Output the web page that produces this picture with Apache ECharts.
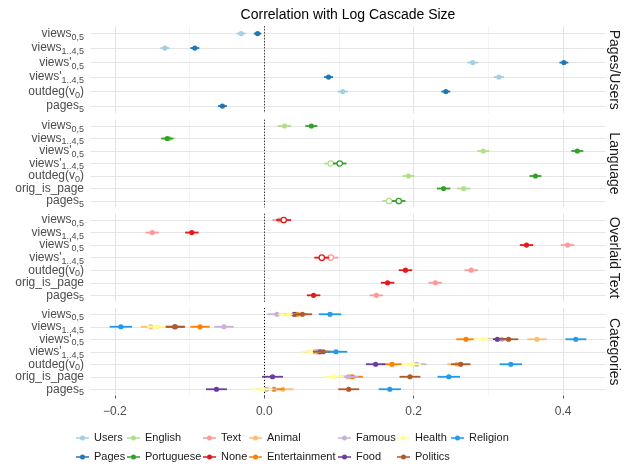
<!DOCTYPE html>
<html><head><meta charset="utf-8">
<script src="https://cdn.jsdelivr.net/npm/echarts@6/dist/echarts.min.js"></script>
<style>html,body{margin:0;padding:0;background:#fff}#c{width:630px;height:466px}</style>
</head><body><div id="c"></div>
<script>
const FONT = '"Liberation Sans", Arial, Helvetica, sans-serif';
const titleText = 'Correlation with Log Cascade Size';
const panelNames = ['Pages/Users', 'Language', 'Overlaid Text', 'Categories'];
const rowsPU = ['views05', 'views145', 'viewsp05', 'viewsp145', 'outdeg', 'pages5'];
const rowsAll = ['views05', 'views145', 'viewsp05', 'viewsp145', 'outdeg', 'orig', 'pages5'];
const rowLabels = {
  views05: '{m|views}{s|0,5}',
  views145: '{m|views}{s|1..4,5}',
  viewsp05: "{m|views'}{s|0,5}",
  viewsp145: "{m|views'}{s|1..4,5}",
  outdeg: '{m|outdeg(v}{s|0}{m|)}',
  orig: '{m|orig_is_page}',
  pages5: '{m|pages}{s|5}'
};
const xTicks = [-0.2, 0, 0.2, 0.4];
const xMinor = [-0.1, 0.1, 0.3];

// Pages/Users panel (rows: rowsPU)
const users      = [-0.031, -0.133, 0.279, 0.314, 0.105, null];
const usersErr   = [0.006, 0.006, 0.007, 0.007, 0.007, null];
const pages      = [-0.009, -0.093, 0.401, 0.086, 0.243, -0.056];
const pagesErr   = [0.005, 0.006, 0.006, 0.006, 0.006, 0.006];
// Language panel (rows: rowsAll)
const english    = [0.027, -0.127, 0.293, 0.089, 0.193, 0.267, 0.167];
const englishErr = [0.009, 0.008, 0.008, 0.009, 0.008, 0.009, 0.009];
const portuguese = [0.063, -0.130, 0.419, 0.101, 0.363, 0.240, 0.180];
const portugueseErr = [0.008, 0.008, 0.008, 0.009, 0.008, 0.009, 0.009];
// Overlaid Text panel
const textOv     = [0.020, -0.150, 0.406, 0.089, 0.277, 0.229, 0.150];
const textOvErr  = [0.009, 0.009, 0.009, 0.010, 0.009, 0.009, 0.009];
const noneOv     = [0.026, -0.097, 0.351, 0.077, 0.189, 0.165, 0.066];
const noneOvErr  = [0.010, 0.009, 0.009, 0.010, 0.009, 0.009, 0.009];
// Categories panel
const animal     = [0.045, -0.152, 0.365, 0.070, 0.258, 0.115, 0.025];
const entertainment = [0.043, -0.086, 0.270, 0.072, 0.171, 0.118, 0.013];
const famous     = [0.017, -0.054, 0.318, 0.068, 0.204, 0.112, 0.003];
const food       = [0.040, -0.120, 0.312, 0.075, 0.149, 0.011, -0.064];
const health     = [0.032, -0.144, 0.293, 0.062, 0.197, 0.093, -0.003];
const politics   = [0.051, -0.119, 0.327, 0.079, 0.263, 0.195, 0.113];
const religion   = [0.088, -0.192, 0.417, 0.096, 0.330, 0.247, 0.168];
const catErr     = [0.013, 0.013, 0.013, 0.014, 0.013, 0.014, 0.014];
const religionErr = [0.015, 0.015, 0.014, 0.015, 0.015, 0.015, 0.015];

// hollow (open) markers by row index
const hollowMarks = {
  English: [3, 6], Portuguese: [3, 6], Text: [3], None: [0, 3]
};

const seriesSpec = [
  ['Users', 0, '#A6CEE3', users, usersErr],
  ['Pages', 0, '#1F78B4', pages, pagesErr],
  ['English', 1, '#B2DF8A', english, englishErr],
  ['Portuguese', 1, '#33A02C', portuguese, portugueseErr],
  ['Text', 2, '#FB9A99', textOv, textOvErr],
  ['None', 2, '#E31A1C', noneOv, noneOvErr],
  ['Animal', 3, '#FDBF6F', animal, catErr],
  ['Entertainment', 3, '#FF7F00', entertainment, catErr],
  ['Famous', 3, '#CAB2D6', famous, catErr],
  ['Food', 3, '#6A3D9A', food, catErr],
  ['Health', 3, '#FFFF99', health, catErr],
  ['Politics', 3, '#B15928', politics, catErr],
  ['Religion', 3, '#1E9BF0', religion, religionErr]
];

const legendCols = [
  ['Users', 'Pages'], ['English', 'Portuguese'], ['Text', 'None'],
  ['Animal', 'Entertainment'], ['Famous', 'Food'], ['Health', 'Politics'], ['Religion']
];
const legendLeft = [76, 127, 203, 249, 338, 397, 451];

const grids = [
  { top: 26.3, height: 87.0 },
  { top: 119.75, height: 87.5 },
  { top: 213.7, height: 87.9 },
  { top: 308.0, height: 87.5 }
];

const X_MIN = -0.2333, X_MAX = 0.4574;
const MAJOR = '#E2E2E2', MINOR = '#F3F3F3', HLINE = '#E6E6E6';

const option = {
  animation: false,
  backgroundColor: '#fff',
  textStyle: { fontFamily: FONT },
  grid: grids.map(g => ({ left: 90, right: 24, top: g.top, height: g.height })),
  xAxis: grids.map((g, i) => ({
    type: 'value', gridIndex: i, min: X_MIN, max: X_MAX,
    axisLine: { show: false },
    splitLine: { show: false },
    axisTick: { show: i === 3, length: 3, customValues: xTicks, lineStyle: { color: '#555' } },
    axisLabel: {
      show: i === 3, customValues: xTicks, margin: 10, fontSize: 12, color: '#4D4D4D', fontFamily: FONT,
      formatter: v => (v < 0 ? '\u2212' : '') + Math.abs(v).toFixed(1)
    }
  })),
  yAxis: grids.map((g, i) => ({
    type: 'category', gridIndex: i, inverse: true,
    data: i === 0 ? rowsPU : rowsAll,
    axisLine: { show: false },
    splitLine: { show: false },
    axisTick: { show: true, interval: 0, alignWithLabel: true, length: 3, lineStyle: { color: '#555' } },
    axisLabel: {
      interval: 0, margin: 6, formatter: v => rowLabels[v],
      rich: {
        m: { fontSize: 12, color: '#4D4D4D', fontFamily: FONT, lineHeight: 16 },
        s: { fontSize: 9, color: '#4D4D4D', fontFamily: FONT, lineHeight: 9, verticalAlign: 'bottom' }
      }
    }
  })),
  legend: legendCols.map((col, i) => ({
    orient: 'vertical', left: legendLeft[i], top: 432.5, padding: 0,
    itemWidth: 13, itemHeight: 14, itemGap: 8,
    icon: 'path://M0,4.3H14V5.7H0Z M7,2.3A2.7,2.7,0,1,1,7,7.7A2.7,2.7,0,1,1,7,2.3Z',
    data: col, selectedMode: false,
    textStyle: { fontSize: 11, color: '#1A1A1A', fontFamily: FONT }
  })),
  graphic: [
    { type: 'text', x: 348, y: 15, silent: true,
      style: { text: titleText, fontSize: 14, fontFamily: FONT, fill: '#000', align: 'center', verticalAlign: 'middle' } }
  ].concat(grids.map((g, i) => ({
    type: 'text', x: 614, y: g.top + g.height / 2, rotation: -Math.PI / 2, silent: true,
    style: { text: panelNames[i], fontSize: 14, fontFamily: FONT, fill: '#1A1A1A', align: 'center', verticalAlign: 'middle' }
  }))),
  series: []
};

// background gridlines + zero line per panel
grids.forEach((g, i) => {
  const rows = i === 0 ? rowsPU : rowsAll;
  const ml = [];
  xMinor.forEach(v => ml.push({ xAxis: v, lineStyle: { color: MINOR, width: 1, type: 'solid' } }));
  xTicks.forEach(v => ml.push({ xAxis: v, lineStyle: { color: MAJOR, width: 1, type: 'solid' } }));
  rows.forEach(r => ml.push({ yAxis: r, lineStyle: { color: HLINE, width: 1.2, type: 'solid' } }));
  option.series.push({
    type: 'line', name: 'bg' + i, xAxisIndex: i, yAxisIndex: i, data: [], silent: true, z: 1,
    markLine: { silent: true, z: 1, symbol: ['none', 'none'], label: { show: false }, animation: false, data: ml }
  });
  option.series.push({
    type: 'line', name: 'zero' + i, xAxisIndex: i, yAxisIndex: i, data: [], silent: true, z: 2,
    markLine: { silent: true, z: 2, symbol: ['none', 'none'], label: { show: false }, animation: false,
      data: [{ xAxis: 0, lineStyle: { color: '#000', width: 1, type: [1, 2] } }] }
  });
});

seriesSpec.forEach(([name, panel, color, values, err]) => {
  const rows = panel === 0 ? rowsPU : rowsAll;
  const hol = hollowMarks[name] || [];
  const data = [];
  values.forEach((v, k) => {
    if (v !== null) data.push([v, rows[k], err[k], hol.includes(k) ? 1 : 0]);
  });
  option.series.push({
    type: 'custom', name, xAxisIndex: panel, yAxisIndex: panel, z: 3,
    itemStyle: { color },
    encode: { x: 0, y: 1 },
    data,
    renderItem: (params, api) => {
      const x = api.value(0), y = api.value(1), e = api.value(2), h = api.value(3);
      const c = api.coord([x, y]);
      const l = api.coord([x - e, y]);
      const r = api.coord([x + e, y]);
      const col = api.visual('color');
      return {
        type: 'group',
        children: [
          { type: 'line', shape: { x1: l[0], y1: c[1], x2: r[0], y2: c[1] }, style: { stroke: col, lineWidth: 1.8 } },
          h ? { type: 'circle', shape: { cx: c[0], cy: c[1], r: 2.7 }, style: { fill: '#fff', stroke: col, lineWidth: 1.3 } }
            : { type: 'circle', shape: { cx: c[0], cy: c[1], r: 2.6 }, style: { fill: col } }
        ]
      };
    }
  });
});

const chart = echarts.init(document.getElementById('c'), null, { renderer: 'canvas' });
chart.setOption(option);
</script>
</body></html>
